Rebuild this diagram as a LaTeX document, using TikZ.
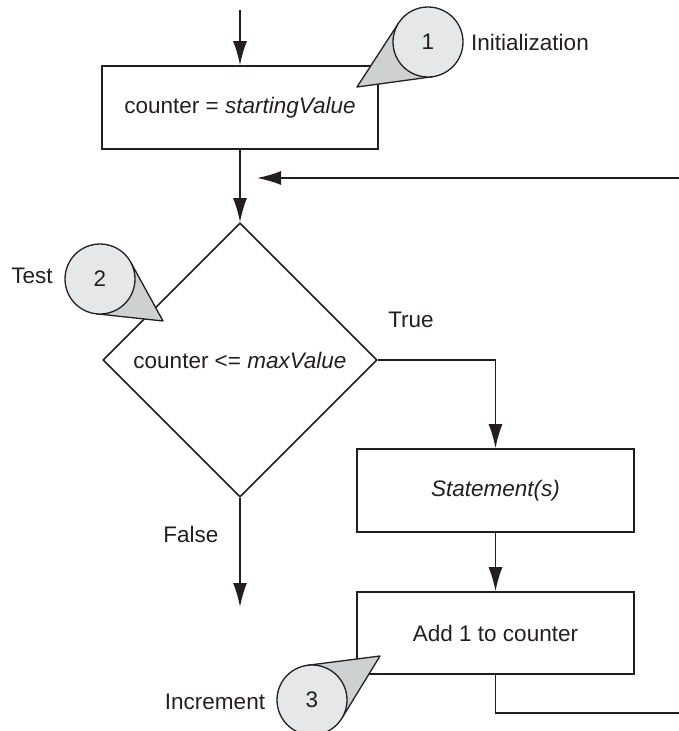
\documentclass[tikz,border=0pt]{standalone}
\usepackage{fontspec}
\setmainfont{Liberation Sans}
\usetikzlibrary{arrows.meta,shapes.geometric,calc}
\definecolor{linec}{HTML}{231F20}
\definecolor{circfill}{HTML}{E6E7E8}
\definecolor{tailfill}{HTML}{CFD0D1}
\begin{document}
\begin{tikzpicture}[x=1pt,y=-1pt,
  color=linec, line width=1.6pt,
  font=\fontsize{22.5}{27}\selectfont,
  box/.style={draw, rectangle, minimum width=277pt, minimum height=83pt, inner sep=0pt},
  decision/.style={draw, diamond, aspect=1, minimum width=274pt, minimum height=274pt, inner sep=0pt},
  flow/.style={-{Latex[length=24pt,width=14pt]}},
  lbl/.style={inner sep=0pt},
  circhelp/.style={circle, minimum size=70pt, inner sep=0pt, outer sep=0pt},
  circdraw/.style={circhelp, draw, fill=circfill, line width=1.3pt},
  tailline/.style={line width=1.3pt, line join=round},
]
\useasboundingbox (0,0) rectangle (678,731);

% main boxes
\node[box, minimum width=276pt] (init) at (240,107.5) {counter = \textit{startingValue}};
\node[decision] (test) at (240,360) {counter <= \textit{maxValue}};
\node[box] (stmt) at (495.5,490.5) {\textit{Statement(s)}};
\node[box, minimum height=82pt] (incr) at (495.5,633) {Add 1 to counter};

% free ends
\coordinate (start) at (240,10);
\coordinate (retstart) at (680,178);
\coordinate (retend) at (257,178);
\coordinate (falseend) at (240,607);
\coordinate (loopend) at (680,713);

% connectors
\draw[flow] (start) -- (init.north);
\draw[flow] (init.south) -- (test.north);
\draw[flow] (retstart) -- (retend);
\draw[flow] (test.east) -| (stmt.north);
\draw[flow] (stmt.south) -- (incr.north);
\draw (incr.south) |- (loopend);
\draw[flow] (test.south) -- (falseend);

% labels
\node[lbl] (ltrue) at (411,320) {True};
\node[lbl] (lfalse) at (191,534) {False};
\node[lbl] (ltest) at (32,276) {Test};
\node[lbl] (linit) at (530,42) {Initialization};
\node[lbl] (linc) at (215,702) {Increment};

% callout 1
\node[circhelp] (c1) at (428,42) {};
\coordinate (tip1) at (357,87);
\fill[tailfill] (tip1) -- (tangent cs:node=c1,point={(tip1)},solution=1) -- (c1.center) -- (tangent cs:node=c1,point={(tip1)},solution=2) -- cycle;
\draw[tailline] (tangent cs:node=c1,point={(tip1)},solution=1) -- (tip1) -- (tangent cs:node=c1,point={(tip1)},solution=2);
\node[circdraw] (n1) at (c1) {1};

% callout 2
\node[circhelp] (c2) at (100,279) {};
\coordinate (tip2) at (163,321);
\fill[tailfill] (tip2) -- (tangent cs:node=c2,point={(tip2)},solution=1) -- (c2.center) -- (tangent cs:node=c2,point={(tip2)},solution=2) -- cycle;
\draw[tailline] (tangent cs:node=c2,point={(tip2)},solution=1) -- (tip2) -- (tangent cs:node=c2,point={(tip2)},solution=2);
\node[circdraw] (n2) at (c2) {2};

% callout 3
\node[circhelp] (c3) at (312,700) {};
\coordinate (tip3) at (380,656);
\fill[tailfill] (tip3) -- (tangent cs:node=c3,point={(tip3)},solution=1) -- (c3.center) -- (tangent cs:node=c3,point={(tip3)},solution=2) -- cycle;
\draw[tailline] (tangent cs:node=c3,point={(tip3)},solution=1) -- (tip3) -- (tangent cs:node=c3,point={(tip3)},solution=2);
\node[circdraw] (n3) at (c3) {3};
\end{tikzpicture}
\end{document}
